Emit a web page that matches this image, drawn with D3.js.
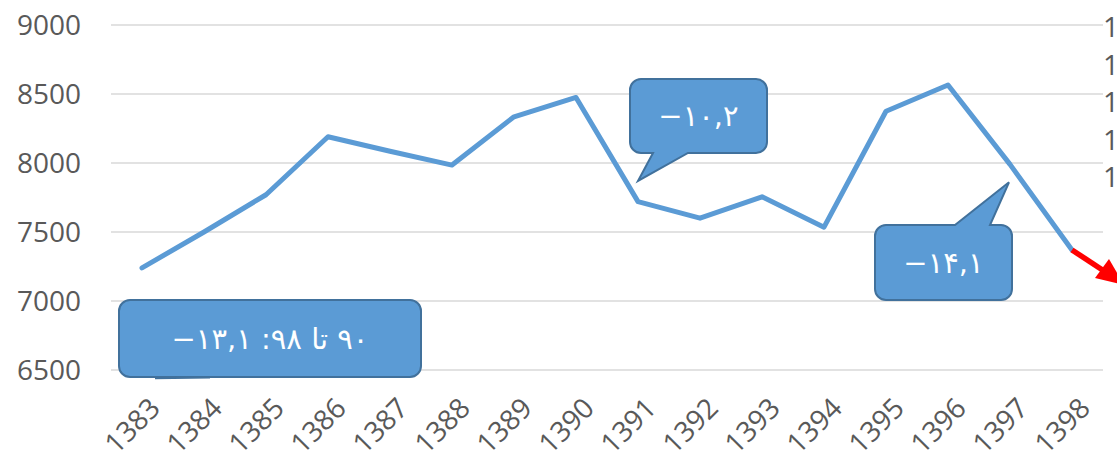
<!DOCTYPE html>
<html lang="fa">
<head>
<meta charset="UTF-8">
<title>chart</title>
<style>
  body { margin: 0; background: #fff; }
  svg { display: block; }
</style>
</head>
<body>
<script src="https://cdnjs.cloudflare.com/ajax/libs/d3/7.8.5/d3.min.js"></script>
<script>
// data
var years = ['1383', '1384', '1385', '1386', '1387', '1388', '1389', '1390',
             '1391', '1392', '1393', '1394', '1395', '1396', '1397', '1398'];
var values = [7240, 7500, 7770, 8190, 8085, 7985, 8335, 8475,
              7720, 7600, 7755, 7535, 8375, 8565, 7990, 7370];
var yTicks = [6500, 7000, 7500, 8000, 8500, 9000];
var rightTicks = [10, 12, 14, 16, 18];   // clipped at the window edge, only the "1" shows
var notes = [
  { text: '۹۰ تا ۹۸: ۱۳,۱−', year: '1383', value: 6440 },
  { text: '۱۰,۲−', year: '1391', value: 7870 },
  { text: '۱۴,۱−', year: '1397', value: 7860 }
];

var W = 1117, H = 455;
var blue = '#5B9BD5', edge = '#41719C', grey = '#595959';

var svg = d3.select('body').append('svg').attr('width', W).attr('height', H);

var x = d3.scalePoint().domain(years).range([111, 1103]).padding(0.5);
var y = d3.scaleLinear().domain([6500, 9000]).range([370, 25]);
var yR = d3.scaleLinear().domain([0, 18]).range([365, 27]);

// gridlines
svg.append('g').selectAll('line').data(yTicks).enter().append('line')
  .attr('x1', 111).attr('x2', 1103)
  .attr('y1', function (d) { return y(d); }).attr('y2', function (d) { return y(d); })
  .attr('stroke', '#D9D9D9').attr('stroke-width', 1.3);

// left labels
svg.append('g').selectAll('text').data(yTicks).enter().append('text')
  .attr('x', 81).attr('y', function (d) { return y(d); })
  .attr('dy', '0.36em').attr('text-anchor', 'end')
  .attr('font-family', 'Open Sans').attr('font-size', 28).attr('fill', grey)
  .text(function (d) { return d; });

// right labels (partly off the page, as in the source)
svg.append('g').selectAll('text').data(rightTicks).enter().append('text')
  .attr('x', 1103).attr('y', function (d) { return yR(d); })
  .attr('dy', '0.36em')
  .attr('font-family', 'Open Sans').attr('font-size', 28).attr('fill', grey)
  .text(function (d) { return d; });

// x labels
svg.append('g').selectAll('text').data(years).enter().append('text')
  .attr('transform', function (d) { return 'translate(' + (x(d) + 6) + ',396) rotate(-45)'; })
  .attr('text-anchor', 'end').attr('dy', '0.7em')
  .attr('font-family', 'Open Sans').attr('font-size', 28).attr('fill', grey)
  .text(function (d) { return d; });

// the line
var line = d3.line()
  .x(function (d, i) { return x(years[i]); })
  .y(function (d) { return y(d); });

svg.append('path').datum(values)
  .attr('d', line)
  .attr('fill', 'none').attr('stroke', blue).attr('stroke-width', 5)
  .attr('stroke-linejoin', 'round').attr('stroke-linecap', 'round');

// red arrow after the last point
var lx = x(years[years.length - 1]), ly = y(values[values.length - 1]);
svg.append('line')
  .attr('x1', lx).attr('y1', ly).attr('x2', lx + 32).attr('y2', ly + 21)
  .attr('stroke', 'red').attr('stroke-width', 5.5);
svg.append('path')
  .attr('d', 'M' + (lx + 52) + ',' + (ly + 35) +
             'L' + (lx + 23) + ',' + (ly + 28) +
             'L' + (lx + 37) + ',' + (ly + 9) + 'Z')
  .attr('fill', 'red');

// callouts
function callout(box, tail, note) {
  var g = svg.append('g');
  var bx = box[0], by = box[1], bw = box[2], bh = box[3], r = 11;
  var p = d3.path();
  p.moveTo(bx + r, by);
  if (tail && tail.side === 'top') {
    p.lineTo(tail.a, by); p.lineTo(tail.tx, tail.ty); p.lineTo(tail.b, by);
  }
  p.lineTo(bx + bw - r, by);
  p.arcTo(bx + bw, by, bx + bw, by + r, r);
  p.lineTo(bx + bw, by + bh - r);
  p.arcTo(bx + bw, by + bh, bx + bw - r, by + bh, r);
  if (tail && tail.side === 'bottom') {
    p.lineTo(tail.b, by + bh); p.lineTo(tail.tx, tail.ty); p.lineTo(tail.a, by + bh);
  }
  p.lineTo(bx + r, by + bh);
  p.arcTo(bx, by + bh, bx, by + bh - r, r);
  p.lineTo(bx, by + r);
  p.arcTo(bx, by, bx + r, by, r);
  p.closePath();
  g.append('path').attr('d', p.toString())
    .attr('fill', blue).attr('stroke', edge).attr('stroke-width', 2);
  g.append('text')
    .attr('x', bx + bw / 2).attr('y', by + bh / 2).attr('dy', '0.35em')
    .attr('text-anchor', 'middle').attr('direction', 'rtl')
    .attr('font-family', 'DejaVu Sans').attr('font-size', 29).attr('fill', '#fff')
    .text(note.text);
  return g;
}

var n0 = notes[0], n1 = notes[1], n2 = notes[2];
callout([119, 300, 302, 77], null, n0);
// flat pointer of the first callout, lying along its bottom edge
svg.append('line')
  .attr('x1', x(n0.year) + 13).attr('y1', y(n0.value))
  .attr('x2', 210).attr('y2', 377.5)
  .attr('stroke', edge).attr('stroke-width', 2);

callout([630, 79, 137, 74],
  { side: 'bottom', a: 653, b: 688, tx: x(n1.year), ty: y(n1.value) }, n1);

callout([875, 225, 137, 75],
  { side: 'top', a: 955, b: 990, tx: x(n2.year) - 1, ty: y(n2.value) }, n2);
</script>
</body>
</html>
